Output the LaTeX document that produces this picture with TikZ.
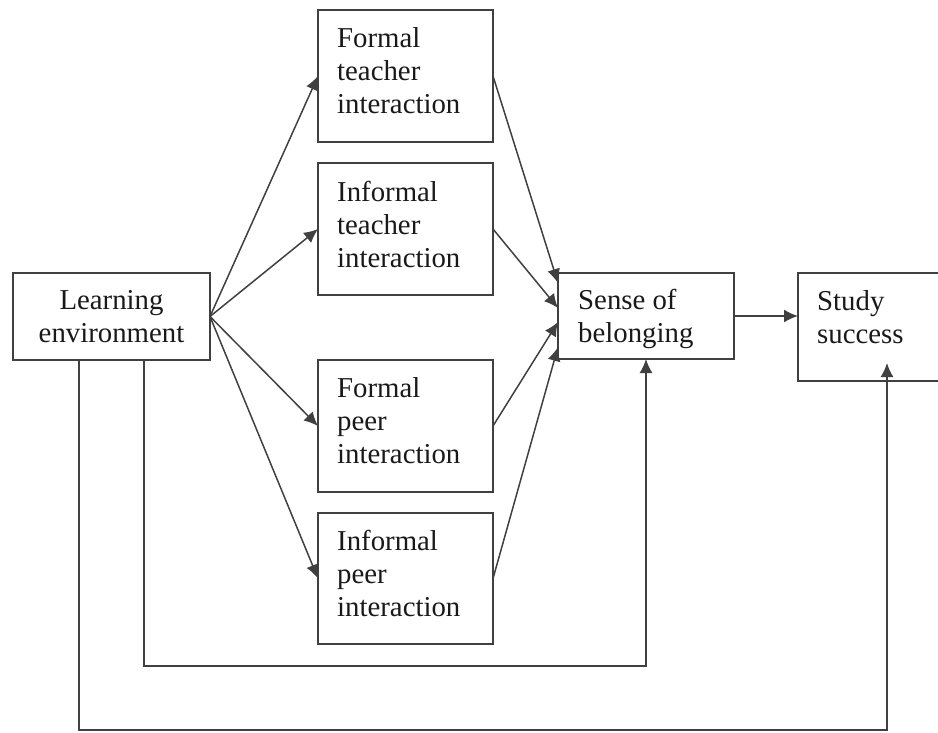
\documentclass[tikz,border=0pt]{standalone}
\usepackage{fontspec}
\setmainfont{Liberation Serif}
\usetikzlibrary{arrows.meta,calc}
\begin{document}
\begin{tikzpicture}[x=1pt,y=-1pt,
  every node/.style={font=\fontsize{28.8}{33}\selectfont, text=black!90},
  boxnode/.style={draw=black!75, line width=1.6pt, inner sep=0pt, outer sep=0pt},
  midbox/.style={boxnode, minimum width=175, minimum height=132},
  lbl/.style={inner sep=0pt, anchor=west, align=left},
  conn/.style={draw=black!75, line width=1.5pt, -{Latex[length=14pt,width=13pt]}}]
\useasboundingbox (0,0) rectangle (938,732);
\clip (0,0) rectangle (938,732);
\node[boxnode, minimum width=197, minimum height=87, align=center] (le) at (111.5,316.5) {Learning\\environment};
\node[midbox] (ft) at (405.5,76) {};
\node[midbox] (it) at (405.5,229) {};
\node[midbox] (fp) at (405.5,426) {};
\node[midbox, minimum height=131] (ip) at (405.5,578.5) {};
\node[boxnode, minimum width=176, minimum height=86] (sb) at (646,316) {};
\node[boxnode, minimum width=160, minimum height=108] (ss) at (878,327) {};
\node[lbl] (ftt) at ($(ft.west)+(19,-5)$) {Formal\\teacher\\interaction};
\node[lbl] (itt) at ($(it.west)+(19,-5)$) {Informal\\teacher\\interaction};
\node[lbl] (fpt) at ($(fp.west)+(19,-5)$) {Formal\\peer\\interaction};
\node[lbl] (ipt) at ($(ip.west)+(19,-5)$) {Informal\\peer\\interaction};
\node[lbl] (sbt) at ($(sb.west)+(20,3)$) {Sense of\\belonging};
\node[lbl] (sst) at ($(ss.west)+(19,-10)$) {Study\\success};
\foreach \t in {ft,it,fp,ip} \draw[conn] (le.east) -- (\t.west);
\draw[conn] (ft.east) -- ($(sb.north west)+(0,10)$);
\draw[conn] (it.east) -- ($(sb.west)+(0,-8)$);
\draw[conn] (fp.east) -- ($(sb.west)+(0,6)$);
\draw[conn] (ip.east) -- ($(sb.west)+(0,31)$);
\draw[conn] (sb.east) -- (sb.east -| ss.west);
\coordinate (inA) at ($(le.south west)+(131,0)$);
\coordinate (inB) at (inA |- 0,666);
\draw[conn] (inA) -- (inB) -- (inB -| sb.south) -- (sb.south);
\coordinate (outA) at ($(le.south west)+(66,0)$);
\coordinate (outB) at (outA |- 0,730);
\coordinate (ssin) at (887,363);
\draw[conn] (outA) -- (outB) -- (outB -| ssin) -- (ssin);
\end{tikzpicture}
\end{document}
